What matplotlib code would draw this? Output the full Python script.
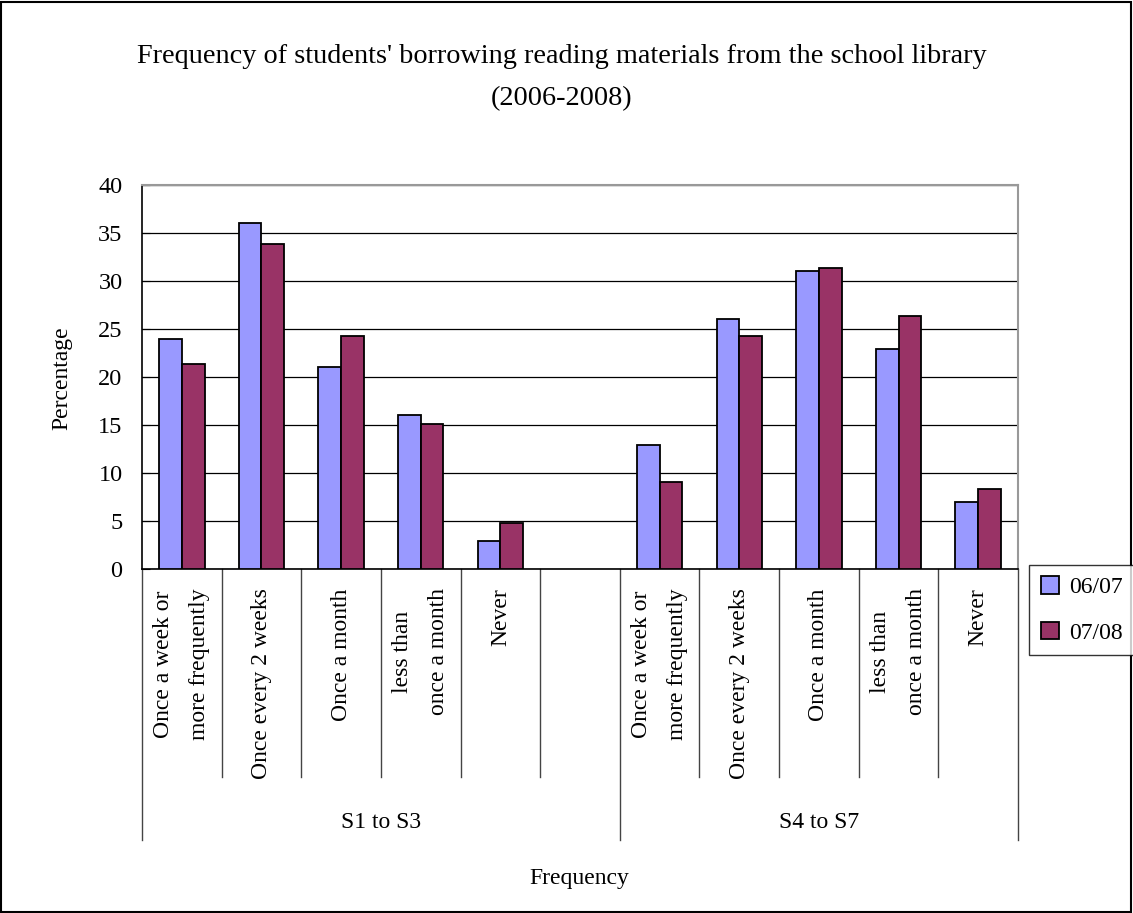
import matplotlib.pyplot as plt
from matplotlib.patches import Rectangle
from matplotlib.transforms import blended_transform_factory

plt.rcParams["font.family"] = ["Liberation Serif", "DejaVu Serif"]

# ── data ────────────────────────────────────────────────────────────────────
groups = ["S1 to S3", "S4 to S7"]
categories = [
    "Once a week or\nmore frequently",
    "Once every 2 weeks",
    "Once a month",
    "less than\nonce a month",
    "Never",
]
series_names = ["06/07", "07/08"]
s1_s3_0607 = [24.0, 36.0, 21.0, 16.0, 2.9]
s1_s3_0708 = [21.4, 33.9, 24.3, 15.1, 4.8]
s4_s7_0607 = [12.9, 26.0, 31.0, 22.9, 7.0]
s4_s7_0708 = [9.1, 24.3, 31.4, 26.4, 8.3]
y_ticks = [0, 5, 10, 15, 20, 25, 30, 35, 40]

colors = ["#9999FF", "#993366"]
fs = 17

W, H = 1133, 913
fig = plt.figure(figsize=(W / 100, H / 100), dpi=100)
ax = fig.add_axes([142 / W, 1 - 569 / H, (1018 - 142) / W, (569 - 185) / H])

# One slot per category, with an empty slot between the two groups.
n = len(categories)
x_g1 = list(range(n))
x_g2 = [n + 1 + i for i in range(n)]
xs = x_g1 + x_g2
vals_0607 = s1_s3_0607 + s4_s7_0607
vals_0708 = s1_s3_0708 + s4_s7_0708

bw = 0.285
ax.bar([x - bw / 2 for x in xs], vals_0607, width=bw, color=colors[0],
       edgecolor="black", linewidth=1.3, label=series_names[0], zorder=3)
ax.bar([x + bw / 2 for x in xs], vals_0708, width=bw, color=colors[1],
       edgecolor="black", linewidth=1.3, label=series_names[1], zorder=3)

ax.set_xlim(-0.5, 2 * n + 0.5)
ax.set_ylim(0, 40)
ax.set_yticks(y_ticks)
ax.yaxis.grid(True, color="black", linewidth=0.9)
ax.set_axisbelow(True)
ax.tick_params(axis="y", direction="in", length=6, width=0.8,
               labelsize=17.5, pad=14)

ax.set_xticks(xs)
ax.set_xticklabels(categories * 2, rotation=90, va="top", ha="center",
                   multialignment="center", fontsize=fs, linespacing=1.95)
ax.tick_params(axis="x", length=0, pad=14)

for side in ("left", "bottom"):
    ax.spines[side].set_color("black")
    ax.spines[side].set_linewidth(1.2)
for side in ("top", "right"):
    ax.spines[side].set_color("#999999")
    ax.spines[side].set_linewidth(1.5)

# Category separators under the axis, longer ones between groups.
trans = blended_transform_factory(ax.transData, ax.transAxes)
short_y = -(777 - 569) / 384
long_y = -(840 - 569) / 384
for b in range(1, 2 * n + 1):
    if b == n + 1:
        continue
    ax.plot([b - 0.5, b - 0.5], [0, short_y], color="#444444", lw=1.0,
            transform=trans, clip_on=False)
for b in (0, n + 1, 2 * n + 1):
    ax.plot([b - 0.5, b - 0.5], [0, long_y], color="#444444", lw=1.0,
            transform=trans, clip_on=False)

group_y = -(822 - 569) / 384
ax.text(n / 2, group_y, groups[0], transform=trans,
        ha="center", va="center", fontsize=fs)
ax.text((3 * n + 1) / 2, group_y, groups[1], transform=trans,
        ha="center", va="center", fontsize=fs)

fig.text(562 / W, 1 - 78 / H,
         "Frequency of students' borrowing reading materials from the school library\n(2006-2008)",
         ha="center", va="center", fontsize=20.3, linespacing=1.9)
fig.text(62 / W, 1 - 378 / H, "Percentage", rotation=90, ha="center",
         va="center", fontsize=fs)
fig.text(579 / W, 1 - 878 / H, "Frequency", ha="center", va="center",
         fontsize=fs)

leg = fig.legend(loc="center", bbox_to_anchor=(1082 / W, 1 - 610 / H),
                 fontsize=fs, frameon=True, fancybox=False,
                 edgecolor="black", handlelength=0.75, handleheight=0.75,
                 handletextpad=0.45, labelspacing=1.0, borderpad=0.5,
                 borderaxespad=0)
leg.get_frame().set_linewidth(1.0)

fig.add_artist(Rectangle((1 / W, 1 / H), (W - 3) / W, (H - 3) / H,
                         transform=fig.transFigure, fill=False,
                         edgecolor="black", linewidth=1.5))

fig.savefig("out.png", dpi=100)
